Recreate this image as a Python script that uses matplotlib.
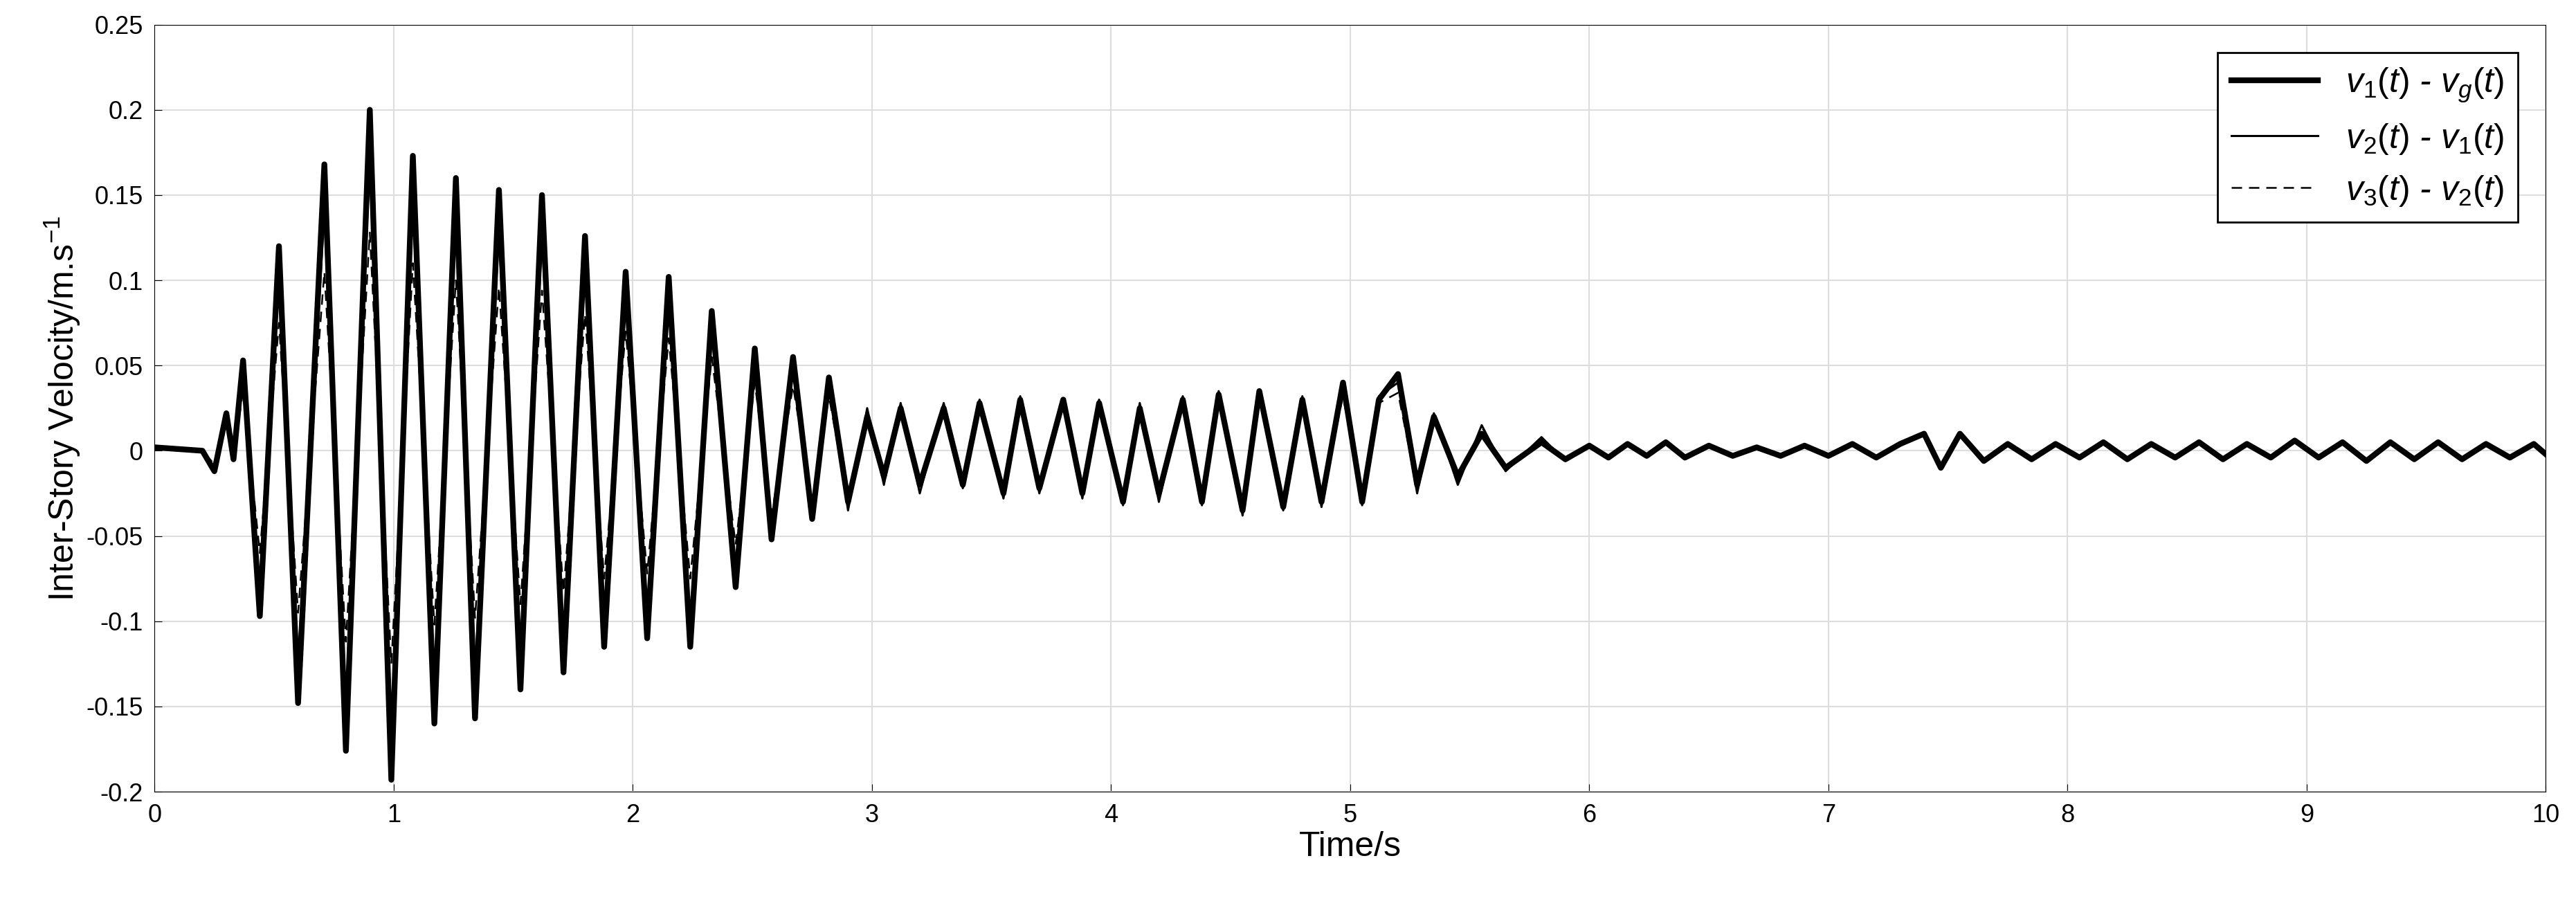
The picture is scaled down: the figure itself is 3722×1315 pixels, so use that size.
import matplotlib.pyplot as plt

# --------------------------------------------------
# data (extrema of each trace)
# --------------------------------------------------
t_main = [0.0, 0.2, 0.25, 0.3, 0.33, 0.37, 0.44, 0.52, 0.6, 0.71, 0.8, 0.9, 0.99,
          1.08, 1.17, 1.26, 1.34, 1.44, 1.53, 1.62, 1.71, 1.8, 1.88, 1.97, 2.06,
          2.15, 2.24, 2.33, 2.43, 2.51, 2.58, 2.67, 2.75, 2.82, 2.9, 2.98, 3.05,
          3.12, 3.2, 3.3, 3.38, 3.45, 3.55, 3.62, 3.7, 3.8, 3.88, 3.95, 4.05,
          4.12, 4.2, 4.3, 4.38, 4.45, 4.55, 4.62, 4.72, 4.8, 4.88, 4.97, 5.05,
          5.12, 5.2, 5.28, 5.35, 5.45, 5.55, 5.65, 5.8, 5.9]
v1_main = [0.002, 0.0, -0.012, 0.022, -0.005, 0.053, -0.097, 0.12, -0.148, 0.168,
           -0.176, 0.2, -0.193, 0.173, -0.16, 0.16, -0.157, 0.153, -0.14, 0.15,
           -0.13, 0.126, -0.115, 0.105, -0.11, 0.102, -0.115, 0.082, -0.08, 0.06,
           -0.052, 0.055, -0.04, 0.043, -0.03, 0.02, -0.015, 0.025, -0.02, 0.025,
           -0.02, 0.028, -0.025, 0.03, -0.022, 0.03, -0.025, 0.028, -0.03, 0.025,
           -0.025, 0.03, -0.03, 0.033, -0.035, 0.035, -0.033, 0.03, -0.03, 0.04,
           -0.03, 0.03, 0.045, -0.02, 0.02, -0.015, 0.01, -0.01, 0.005, -0.005]
v2_main = [0.001, 0.0, -0.01, 0.018, -0.004, 0.045, -0.082, 0.1, -0.125, 0.14,
           -0.15, 0.17, -0.165, 0.145, -0.135, 0.135, -0.13, 0.128, -0.118, 0.125,
           -0.11, 0.105, -0.098, 0.09, -0.095, 0.088, -0.1, 0.07, -0.07, 0.052,
           -0.048, 0.048, -0.035, 0.038, -0.035, 0.025, -0.02, 0.028, -0.025, 0.028,
           -0.022, 0.03, -0.028, 0.032, -0.025, 0.03, -0.028, 0.03, -0.032, 0.028,
           -0.03, 0.032, -0.032, 0.035, -0.038, 0.036, -0.035, 0.032, -0.033, 0.038,
           -0.032, 0.032, 0.04, -0.025, 0.022, -0.02, 0.015, -0.012, 0.008, -0.006]
v3_main = [0.001, 0.0, -0.008, 0.014, -0.003, 0.035, -0.06, 0.075, -0.095, 0.105,
           -0.112, 0.128, -0.125, 0.11, -0.102, 0.1, -0.098, 0.096, -0.09, 0.094,
           -0.083, 0.08, -0.075, 0.07, -0.072, 0.066, -0.075, 0.055, -0.055, 0.04,
           -0.038, 0.038, -0.03, 0.032, -0.03, 0.022, -0.018, 0.024, -0.02, 0.024,
           -0.02, 0.026, -0.024, 0.028, -0.022, 0.026, -0.024, 0.026, -0.028, 0.024,
           -0.026, 0.028, -0.028, 0.03, -0.032, 0.03, -0.03, 0.028, -0.028, 0.032,
           -0.028, 0.028, 0.034, -0.022, 0.02, -0.018, 0.014, -0.01, 0.007, -0.005]

t_tail = [6.0, 6.08, 6.16, 6.24, 6.32, 6.4, 6.5, 6.6, 6.7, 6.8, 6.9, 7.0, 7.1,
          7.2, 7.3, 7.4, 7.47, 7.55, 7.65, 7.75, 7.85, 7.95, 8.05, 8.15, 8.25,
          8.35, 8.45, 8.55, 8.65, 8.75, 8.85, 8.95, 9.05, 9.15, 9.25, 9.35, 9.45,
          9.55, 9.65, 9.75, 9.85, 9.95, 10.0]
v_tail = [0.003, -0.004, 0.004, -0.003, 0.005, -0.004, 0.003, -0.003, 0.002,
          -0.003, 0.003, -0.003, 0.004, -0.004, 0.004, 0.01, -0.01, 0.01, -0.006,
          0.004, -0.005, 0.004, -0.004, 0.005, -0.005, 0.004, -0.004, 0.005,
          -0.005, 0.004, -0.004, 0.006, -0.004, 0.005, -0.006, 0.005, -0.005,
          0.005, -0.005, 0.004, -0.004, 0.004, -0.002]

y_ticks = [-0.2, -0.15, -0.1, -0.05, 0, 0.05, 0.1, 0.15, 0.2, 0.25]
y_labels = ["-0.2", "-0.15", "-0.1", "-0.05", "0", "0.05", "0.1", "0.15", "0.2", "0.25"]

# --------------------------------------------------
# plot
# --------------------------------------------------
plt.rcParams.update({
    "font.family": "Liberation Sans",
    "mathtext.fontset": "custom",
    "mathtext.rm": "Liberation Sans",
    "mathtext.it": "Liberation Sans:italic",
})

fig = plt.figure(figsize=(37.23, 13.15), dpi=100)
ax = fig.add_axes([0.06, 0.13, 0.928, 0.843])

ax.plot(t_main + t_tail, v3_main + v_tail, color="black", linestyle=(0, (6, 4)),
        linewidth=1.8, label=r"$v_3(t)$ - $v_2(t)$", solid_joinstyle="round")
ax.plot(t_main + t_tail, v2_main + v_tail, color="black", linewidth=2.2,
        label=r"$v_2(t)$ - $v_1(t)$", solid_joinstyle="round")
ax.plot(t_main + t_tail, v1_main + v_tail, color="black", linewidth=6,
        label=r"$v_1(t)$ - $v_g(t)$", solid_joinstyle="round")

ax.set_xlim(0, 10)
ax.set_ylim(-0.2, 0.25)
ax.set_xticks(range(0, 11))
ax.set_yticks(y_ticks)
ax.set_yticklabels(y_labels)
ax.tick_params(labelsize=26, direction="in", length=8, pad=12)
ax.grid(True, color="#dddddd", linewidth=1.5)
ax.set_xlabel("Time/s", fontsize=36)
ax.set_ylabel(r"Inter-Story Velocity/m.s$^{-1}$", fontsize=36)

handles, labels = ax.get_legend_handles_labels()
leg = ax.legend(handles[::-1], labels[::-1], loc="upper right",
                prop={"size": 36, "style": "italic"},
                fancybox=False, edgecolor="black", framealpha=1,
                handlelength=2.5, borderaxespad=0.8)
leg.get_frame().set_linewidth(2)

fig.savefig("out.png", dpi=100)
